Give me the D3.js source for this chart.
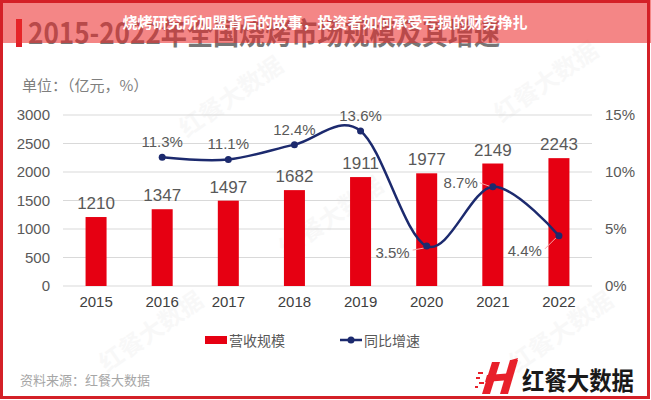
<!DOCTYPE html>
<html><head><meta charset="utf-8">
<script src="https://cdn.jsdelivr.net/npm/d3@7"></script>
<style>
html,body{margin:0;padding:0;background:#fff;}
svg{display:block;}
</style></head>
<body>
<svg id="chart" width="651" height="400"></svg>
<script>
const years = ["2015","2016","2017","2018","2019","2020","2021","2022"];
const revenue = [1210,1347,1497,1682,1911,1977,2149,2243];
const growthYears = ["2016","2017","2018","2019","2020","2021","2022"];
const growth = [11.3,11.1,12.4,13.6,3.5,8.7,4.4];
const leftTicks = [0,500,1000,1500,2000,2500,3000];
const rightTicks = [0,5,10,15];
const pageTitle = "烧烤研究所加盟背后的故事，投资者如何承受亏损的财务挣扎";
const heading = "2015-2022年全国烧烤市场规模及其增速";
const unitText = "单位：（亿元，%）";
const legendNames = ["营收规模","同比增速"];
const sourceText = "资料来源：红餐大数据";
const brandText = "红餐大数据";

const svg = d3.select("#chart");
const CJK = "'Noto Sans CJK SC','Noto Sans',sans-serif";
const LAT = "'Liberation Sans',Arial,sans-serif";
const grey = "#595959";
const red = "#E60012";
const navy = "#1C2A6E";

svg.append("rect").attr("width",651).attr("height",400).attr("fill","#fff");

// faint watermarks
const wm = [[230,95],[545,80],[330,215],[150,330],[560,330]];
wm.forEach(([x,y])=>{
  svg.append("text").attr("transform",`translate(${x},${y}) rotate(-35)`)
    .attr("text-anchor","middle").attr("dominant-baseline","central")
    .attr("font-family",CJK).attr("font-weight","bold")
    .attr("font-size",24).attr("fill","#000").attr("opacity",0.022).text(brandText);
});

// heading (partly covered by banner)
svg.append("rect").attr("x",16).attr("y",19).attr("width",6).attr("height",28).attr("fill","#E0202A");
svg.append("text").attr("x",28).attr("y",44).attr("font-family",CJK).attr("font-weight","bold")
  .attr("font-size",30).attr("fill","#767676").attr("textLength",472).attr("lengthAdjust","spacingAndGlyphs")
  .text(heading);

// banner overlay
svg.append("rect").attr("x",0).attr("y",0).attr("width",651).attr("height",43)
  .attr("fill","rgba(235,40,40,0.56)");
svg.append("text").attr("x",325).attr("y",21).attr("text-anchor","middle").attr("dominant-baseline","central")
  .attr("font-family",CJK).attr("font-weight","bold").attr("font-size",15).attr("fill","#fff").text(pageTitle);

// unit
svg.append("text").attr("x",22).attr("y",91).attr("font-family",CJK).attr("font-size",15)
  .attr("fill","#7f7f7f").text(unitText);

// scales
const x = d3.scaleBand().domain(years).range([63,592]);
const yL = d3.scaleLinear().domain([0,3000]).range([286,115]);
const yR = d3.scaleLinear().domain([0,15]).range([286,115]);
const barW = 21;

// grid
svg.append("g").selectAll("line").data(leftTicks).join("line")
  .attr("x1",63).attr("x2",592).attr("y1",d=>yL(d)).attr("y2",d=>yL(d))
  .attr("stroke","#d9d9d9").attr("stroke-width",1);

// left axis
const axL = d3.axisLeft(yL).tickValues(leftTicks).tickSize(0).tickPadding(0).tickFormat(d3.format("d"));
const gL = svg.append("g").attr("transform","translate(50,0)").call(axL);
gL.select(".domain").remove();
gL.selectAll("text").attr("font-family",LAT).attr("font-size",15).attr("fill",grey);

// right axis
const axR = d3.axisRight(yR).tickValues(rightTicks).tickSize(0).tickPadding(0).tickFormat(d=>d+"%");
const gR = svg.append("g").attr("transform","translate(605,0)").call(axR);
gR.select(".domain").remove();
gR.selectAll("text").attr("font-family",LAT).attr("font-size",15).attr("fill",grey);

// bottom axis
const axB = d3.axisBottom(x).tickSize(0).tickPadding(0);
const gB = svg.append("g").attr("transform","translate(0,296)").call(axB);
gB.select(".domain").remove();
gB.selectAll("text").attr("font-family",LAT).attr("font-size",15).attr("fill","#404040");

// bars
svg.append("g").selectAll("rect").data(years).join("rect")
  .attr("x",(d)=>x(d)+x.bandwidth()/2-barW/2).attr("width",barW)
  .attr("y",(d,i)=>yL(revenue[i])).attr("height",(d,i)=>yL(0)-yL(revenue[i]))
  .attr("fill",red);
svg.append("g").selectAll("text").data(years).join("text")
  .attr("x",d=>x(d)+x.bandwidth()/2).attr("y",(d,i)=>yL(revenue[i])-8)
  .attr("text-anchor","middle").attr("font-family",LAT).attr("font-size",17).attr("fill",grey)
  .text((d,i)=>revenue[i]);

// line
const pts = growthYears.map((yr,i)=>[x(yr)+x.bandwidth()/2, yR(growth[i])]);
svg.append("path").attr("d",d3.line().curve(d3.curveCardinal.tension(0))(pts))
  .attr("fill","none").attr("stroke",navy).attr("stroke-width",2.5);

// leader lines for side labels
const sideLabels = {4:{dx:-17,dy:6,lx:-14,ly:4},5:{dx:-15,dy:-4,lx:-13,ly:-4},6:{dx:-17,dy:15,lx:-14,ly:13}};
Object.entries(sideLabels).forEach(([i,o])=>{
  const [px,py]=pts[+i];
  svg.append("line").attr("x1",px-3).attr("y1",py+ (o.ly>0?2:-0.5)).attr("x2",px+o.lx).attr("y2",py+o.ly)
    .attr("stroke","#f3a5a5").attr("stroke-width",1);
});

svg.append("g").selectAll("circle").data(pts).join("circle")
  .attr("cx",d=>d[0]).attr("cy",d=>d[1]).attr("r",3.5).attr("fill",navy);

// percent labels
svg.append("g").selectAll("text").data(pts).join("text")
  .attr("x",(d,i)=> sideLabels[i] ? d[0]+sideLabels[i].dx : d[0])
  .attr("y",(d,i)=> sideLabels[i] ? d[1]+sideLabels[i].dy : d[1]-10)
  .attr("text-anchor",(d,i)=> sideLabels[i] ? "end" : "middle")
  .attr("dominant-baseline",(d,i)=> sideLabels[i] ? "central" : "auto")
  .attr("font-family",LAT).attr("font-size",15).attr("fill",grey)
  .text((d,i)=>growth[i].toFixed(1)+"%");

// legend
svg.append("rect").attr("x",205).attr("y",336).attr("width",22).attr("height",8).attr("fill",red);
svg.append("text").attr("x",229).attr("y",340).attr("dominant-baseline","central")
  .attr("font-family",CJK).attr("font-size",14).attr("fill",grey).text(legendNames[0]);
svg.append("line").attr("x1",340).attr("x2",362).attr("y1",340).attr("y2",340).attr("stroke",navy).attr("stroke-width",2.5);
svg.append("circle").attr("cx",351).attr("cy",340).attr("r",3.5).attr("fill",navy);
svg.append("text").attr("x",364).attr("y",340).attr("dominant-baseline","central")
  .attr("font-family",CJK).attr("font-size",14).attr("fill",grey).text(legendNames[1]);

// source
svg.append("text").attr("x",20).attr("y",379).attr("dominant-baseline","central")
  .attr("font-family",CJK).attr("font-size",13).attr("fill","#a6a6a6").text(sourceText);

// brand logo
const logo = svg.append("g").attr("transform","translate(478,360)");
logo.append("path").attr("d","M14 2 L22 2 L12 34 L4 34 Z").attr("fill","#E8202A");
logo.append("path").attr("d","M32 0 L40 0 L30 34 L22 34 Z").attr("fill","#E8202A");
logo.append("path").attr("d","M9 15 L35 13 L33 20 L7 22 Z").attr("fill","#E8202A");
logo.append("path").attr("d","M33 0 L40 -2 L38 4 Z").attr("fill","#E8202A");
[[0,12,5],[-2,17,4],[1,22,5],[-3,26,3]].forEach(([dx,dy,w])=>{
  logo.append("rect").attr("x",dx).attr("y",dy).attr("width",w).attr("height",2).attr("fill","#E8202A");
});
svg.append("text").attr("x",522).attr("y",379).attr("dominant-baseline","central")
  .attr("font-family",CJK).attr("font-weight","bold").attr("font-size",25).attr("fill","#1a1a1a")
  .attr("textLength",112).attr("lengthAdjust","spacingAndGlyphs").text(brandText);

// outer border
svg.append("rect").attr("x",1.5).attr("y",1.5).attr("width",647).attr("height",396)
  .attr("fill","none").attr("stroke","#D42027").attr("stroke-width",3);
</script>
</body></html>
